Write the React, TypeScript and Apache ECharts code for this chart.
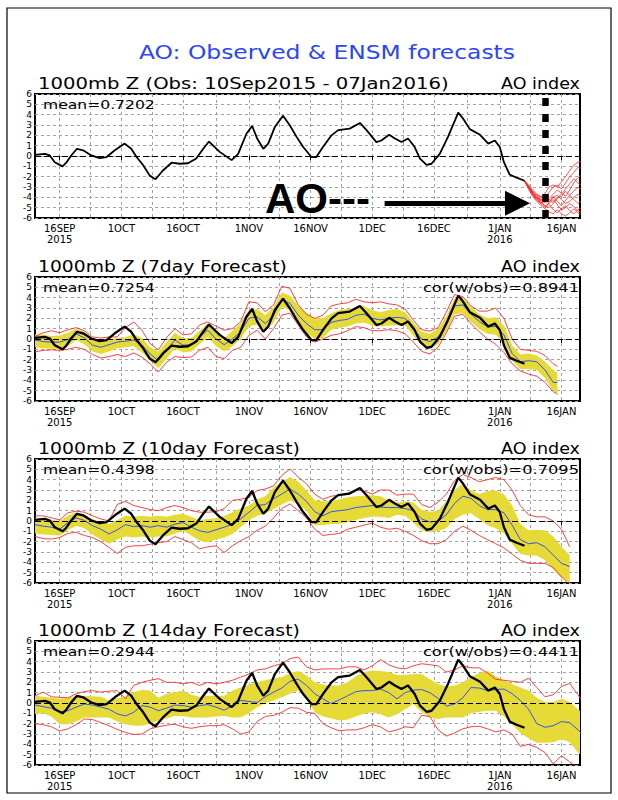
import React, { useEffect, useRef } from "react";
import * as echarts from "echarts";

// ---------- axis definition (x = days since 10 Sep 2015) ----------
const X_MIN = 0;
const X_MAX = 132.5;
const MAJOR_DAYS = [6, 21, 36, 52, 67, 82, 97, 113, 128];
const MAJOR_LABELS = ["16SEP\n2015", "1OCT", "16OCT", "1NOV", "16NOV", "1DEC", "16DEC", "1JAN\n2016", "16JAN"];
const MINOR_DAYS = [13.5, 28.5, 44, 59.5, 74.5, 89.5, 105, 120.5];
const Y_MIN = -6;
const Y_MAX = 6;

// ---------- observed AO index ----------
const OBS_DAYS = [0, 2.4, 3.6, 4.8, 6.7, 7.6, 8.8, 10.2, 11.7, 13.7, 15.7, 17.4, 19.4, 21.8, 23.4, 24.7, 26.3, 27.9, 29.3, 31.1,
  33.2, 35.2, 37.2, 39.2, 40.9, 42.3, 44.9, 47.8, 49.4, 51.4, 52.8, 54, 55.5, 56.7, 58.3, 60.3, 61.9, 63.6, 65.2, 67.2,
  68.4, 70, 72.1, 73.7, 76.5, 79, 80.6, 83, 84.2, 86.1, 87.5, 89.1, 90.7, 92.3, 93.6, 95.2, 96.4, 98.4, 100.4, 102.9,
  104.1, 105.7, 108.2, 110.2, 111.8, 113, 114, 115.4, 117.1, 118.7, 119];
const OBS_VALS = [0.1, 0.2, 0.05, -0.6, -1.0, -0.65, 0.05, 0.7, 0.55, 0.05, -0.2, -0.1, 0.55, 1.2, 0.7, -0.1, -0.9, -1.9, -2.25, -1.4,
  -0.65, -0.75, -0.7, -0.25, 0.7, 1.4, 0.4, -0.4, 0.2, 2.15, 2.9, 1.7, 0.7, 1.2, 2.8, 3.9, 3.0, 1.85, 0.87, -0.1,
  -0.1, 0.87, 2.0, 2.5, 2.65, 3.2, 2.5, 1.35, 1.5, 2.05, 1.7, 1.35, 1.7, 0.87, -0.25, -0.85, -0.75, 0.2, 1.85, 4.2,
  3.6, 2.6, 2.05, 1.2, 1.5, 0.87, -0.6, -1.8, -2.1, -2.35, -2.4];

// ---------- panel 1: ensemble member forecasts from 7 Jan ----------
const ENS_DAYS = [119, 120, 121, 122, 123, 124, 125, 126, 127, 128, 129, 130, 131, 132, 133];
const ENS_M1 = [-2.4, -2.9, -3.4, -3.8, -4.0, -3.6, -3.0, -2.8, -3.0, -2.5, -2.0, -1.4, -0.9, -0.6, -0.5];
const ENS_M2 = [-2.4, -3.0, -3.5, -3.9, -4.2, -4.0, -3.5, -3.0, -2.8, -3.2, -2.6, -2.0, -1.6, -1.1, -1.2];
const ENS_M3 = [-2.4, -3.0, -3.6, -4.1, -4.3, -4.5, -4.1, -3.7, -3.3, -3.6, -3.9, -3.3, -2.6, -2.1, -1.8];
const ENS_M4 = [-2.4, -2.8, -3.3, -3.7, -3.9, -4.2, -4.4, -4.0, -3.8, -4.2, -4.6, -4.4, -4.0, -3.7, -3.9];
const ENS_M5 = [-2.4, -3.1, -3.7, -4.2, -4.5, -4.8, -5.0, -4.6, -4.1, -3.9, -3.4, -3.8, -4.2, -4.6, -4.3];
const ENS_M6 = [-2.4, -3.1, -3.8, -4.3, -4.6, -4.3, -4.7, -5.2, -5.5, -5.1, -4.8, -5.3, -5.6, -5.2, -5.0];
const ENS_M7 = [-2.4, -3.2, -3.9, -4.4, -4.8, -5.1, -5.4, -5.6, -5.2, -5.6, -5.8, -5.5, -5.1, -5.5, -5.7];
const ENS_M8 = [-2.4, -3.0, -3.7, -4.0, -4.4, -4.9, -4.6, -4.2, -4.7, -5.2, -5.0, -4.6, -4.9, -5.3, -5.5];
const ENS_M9 = [-2.4, -2.9, -3.5, -4.0, -4.3, -3.9, -4.2, -4.5, -4.0, -3.7, -3.2, -2.7, -2.2, -2.6, -2.9];
const ENS_M10 = [-2.4, -3.1, -3.6, -4.1, -4.6, -5.0, -4.5, -3.9, -4.4, -4.8, -4.3, -3.8, -3.4, -3.0, -3.3];
const ENSEMBLE = [ENS_M1, ENS_M2, ENS_M3, ENS_M4, ENS_M5, ENS_M6, ENS_M7, ENS_M8, ENS_M9, ENS_M10];

// annotation positions (data space)
const MARK_DAY = 124;
const ARROW_FROM = 85;
const ARROW_TO = 117.3;
const ARROW_LEVEL = -4.58;

// ---------- sampling days for the forecast panels ----------
const evens = (last: number) => Array.from({ length: last / 2 + 1 }, (_, i) => i * 2);
const DAYS_P2 = [...evens(126), 127];
const DAYS_P3 = evens(130);
const DAYS_P4 = [...evens(132), 133];

// ---------- panel 2: 7-day forecast ----------
const P2_MEAN = [-0.1, -0.25, -0.3, -0.3, -0.05, 0.5, 0.1, -0.6, -0.8, -0.55,
  -0.3, -0.2, -0.1, -0.6, -1.45, -2.1, -1.1, -0.1, -0.6, -0.55,
  0.2, 0.85, 0, -0.55, 0, 0.7, 2.0, 2.15, 1.5, 2.3,
  3.8, 3.45, 2.3, 1.5, 0.9, 0.9, 1.6, 1.8, 1.9, 2.3,
  2.4, 2.0, 1.85, 2.0, 2.1, 2.0, 1.0, 0.0, -0.25, 0.2,
  1.4, 3.2, 3.3, 2.4, 1.7, 1.2, 1.2, 0.4, -1.4, -2.2,
  -2.1, -2.2, -3.0, -4.2, -4.2];
const P2_BAND_HI = [0.45, 0.4, 0.3, 0.35, 0.6, 1.0, 0.7, 0.0, -0.2, 0.0,
  0.1, 0.2, 0.45, 0.1, -0.8, -1.2, -0.3, 0.6, 0.1, 0.1,
  0.8, 1.5, 0.8, 0.1, 0.8, 1.5, 2.8, 2.9, 2.3, 3.1,
  4.5, 4.2, 3.2, 2.5, 2.0, 2.0, 2.5, 2.8, 2.9, 3.0,
  3.2, 2.8, 2.6, 2.8, 2.9, 2.6, 1.6, 0.7, 0.5, 1.0,
  2.2, 3.9, 4.0, 3.1, 2.4, 2.0, 2.1, 1.3, -0.6, -1.5,
  -1.4, -1.6, -2.2, -3.0, -3.3];
const P2_BAND_LO = [-0.8, -0.9, -0.95, -1.0, -0.7, -0.1, -0.5, -1.2, -1.45, -1.2,
  -0.9, -0.8, -0.7, -1.3, -2.1, -2.8, -1.9, -0.9, -1.3, -1.2,
  -0.5, 0.2, -0.7, -1.2, -0.7, 0.0, 1.2, 1.4, 0.8, 1.6,
  3.1, 2.8, 1.6, 0.6, 0.0, 0.1, 0.9, 1.1, 1.2, 1.5,
  1.6, 1.3, 1.2, 1.3, 1.3, 1.3, 0.3, -0.6, -0.9, -0.5,
  0.7, 2.4, 2.5, 1.7, 1.0, 0.5, 0.4, -0.4, -2.1, -2.9,
  -2.9, -3.0, -3.8, -5.0, -5.3];
const P2_RED_HI = [0.25, 0.6, 0.8, 0.6, 0.9, 1.1, 0.8, 0.2, 0.1, 0.2,
  0.2, 1.1, 1.65, 0.85, -0.45, -1.05, 0.15, 1.0, 0.4, 0.5,
  1.35, 1.65, 1.25, 0.85, 1.0, 1.65, 3.6, 3.5, 2.65, 3.3,
  5.1, 4.9, 3.3, 2.4, 2.0, 2.3, 3.2, 3.4, 3.5, 3.85,
  3.6, 3.5, 3.6, 3.4, 3.3, 2.9, 1.8, 0.9, 0.75, 1.1,
  2.6, 4.3, 4.1, 3.2, 2.7, 2.7, 3.0, 2.0, 0.0, -1.0,
  -1.1, -1.2, -1.6, -2.4, -2.65];
const P2_RED_LO = [-1.25, -1.1, -1.05, -1.1, -1.0, -0.8, -1.0, -1.5, -1.85, -1.7,
  -1.5, -1.7, -1.35, -1.75, -2.4, -3.2, -2.25, -1.7, -1.8, -1.75,
  -1.1, -0.8, -1.7, -1.9, -1.1, -0.8, 0.35, 0.85, 0.0, 1.0,
  2.3, 2.5, 1.35, 0.2, -0.3, 0.0, 0.35, 0.5, 0.8, 1.2,
  1.1, 0.8, 0.8, 0.9, 0.8, 0.5, -0.3, -1.2, -1.45, -0.8,
  0.6, 2.2, 2.4, 1.5, 0.7, 0.0, -0.5, -1.3, -2.4, -3.1,
  -3.4, -3.6, -4.2, -5.1, -5.35];

// ---------- panel 3: 10-day forecast ----------
const P3_MEAN = [-0.35, -0.5, -0.6, -0.8, -0.15, 0.3, 0.05, -0.45, -0.8, -1.25,
  -0.85, -0.35, -0.55, -0.45, -0.6, -0.45, -0.6, -0.3, -0.15, -0.6,
  -0.95, -1.1, -0.85, -0.6, -0.3, 0.2, 0.85, 1.5, 1.6, 2.15,
  2.6, 3.1, 2.6, 1.9, 0.9, 0.5, 0.9, 1.0, 1.1, 1.3,
  1.4, 1.5, 1.35, 1.3, 1.3, 1.2, 1.0, 0.2, -0.1, 0.0,
  0.6, 1.7, 2.4, 2.2, 1.5, 1.1, 1.1, 0.8, -0.4, -1.8,
  -2.2, -2.1, -2.5, -3.3, -4.1, -4.4];
const P3_BAND_HI = [0.3, 0.2, 0.1, 0.0, 0.5, 0.85, 0.6, 0.2, -0.1, -0.3,
  0.1, 0.5, 0.4, 0.5, 0.4, 0.5, 0.4, 0.6, 0.7, 0.4,
  0.1, 0.2, 0.3, 0.5, 0.85, 1.2, 1.5, 2.1, 2.4, 3.25,
  3.8, 4.25, 3.8, 2.95, 2.0, 1.9, 1.9, 2.1, 2.3, 2.4,
  2.45, 2.5, 2.4, 2.0, 1.8, 1.9, 1.8, 1.1, 0.9, 1.0,
  1.9, 3.0, 3.6, 3.0, 2.6, 2.9, 2.95, 2.6, 1.5, -0.3,
  -0.9, -0.85, -0.9, -1.5, -2.5, -3.3];
const P3_BAND_LO = [-1.2, -1.3, -1.35, -1.4, -0.9, -0.45, -0.7, -1.3, -1.8, -2.2,
  -1.8, -1.5, -1.6, -1.5, -1.6, -1.5, -1.5, -1.2, -0.95, -1.4,
  -1.9, -2.05, -1.8, -1.6, -1.25, -0.6, 0.1, 0.5, 0.7, 1.15,
  1.6, 2.0, 1.6, 1.0, -0.4, -0.4, -0.3, -0.3, -0.1, 0.1,
  0.3, 0.4, 0.4, 0.3, 0.6, 0.5, -0.2, -0.9, -1.1, -0.95,
  -0.7, 0.2, 0.6, 0.75, 0.2, -0.4, -0.7, -1.2, -2.2, -3.2,
  -3.35, -3.35, -3.8, -4.7, -5.5, -6.0];
const P3_RED_HI = [0.5, 0.5, 0.3, 0.1, 0.8, 0.95, 0.85, 0.5, 0.2, 0.0,
  1.6, 1.9, 1.5, 1.3, 1.1, 1.0, 1.3, 1.5, 1.3, 1.0,
  0.85, 0.85, 0.9, 1.2, 2.0, 2.1, 2.3, 2.95, 3.1, 3.4,
  4.4, 5.05, 4.25, 3.6, 2.6, 2.1, 2.4, 2.5, 2.7, 3.0,
  2.9, 2.6, 3.0, 3.0, 2.5, 2.6, 2.6, 1.6, 1.3, 1.8,
  2.6, 3.9, 4.5, 4.2, 3.8, 4.0, 4.2, 4.0, 3.0, 1.5,
  0.6, 0.4, 0.4, 0.0, -0.8, -2.5];
const P3_RED_LO = [-1.5, -1.7, -1.75, -1.6, -1.2, -1.1, -1.4, -1.6, -2.0, -2.55,
  -3.15, -2.55, -2.4, -2.4, -2.25, -2.1, -2.0, -1.5, -1.8, -2.1,
  -2.7, -2.5, -2.4, -3.05, -2.4, -1.9, -1.5, -0.9, -0.5, 0.3,
  1.2, 1.65, 1.0, 0.3, -0.8, -1.4, -1.3, -1.2, -0.8, -0.6,
  -0.4, -0.2, -0.6, -0.8, -0.7, -1.0, -1.4, -1.9, -2.2, -2.2,
  -1.8, -1.0, -0.5, -0.9, -1.4, -1.8, -2.2, -2.6, -3.2, -3.8,
  -4.1, -4.1, -4.1, -4.5, -5.4, -6.2];

// ---------- panel 4: 14-day forecast ----------
const P4_MEAN = [-0.2, -0.35, -0.5, -0.85, -0.75, -0.4, -0.1, -0.2, -0.4, -0.6,
  -1.05, -1.25, -0.9, -0.25, -0.4, -0.75, -0.5, -0.2, -0.25, -0.4,
  -0.25, -0.15, -0.4, -0.7, -0.25, 0.25, 0.15, 0.05, 0.6, 1.05,
  1.45, 2.1, 2.3, 1.7, 0.9, 0.4, -0.05, 0.3, 0.7, 1.1,
  1.2, 1.2, 1.35, 1.0, 0.4, 1.0, 1.25, 1.3, 1.0, 0.45,
  -0.3, -0.1, 0.5, 1.5, 1.45, 1.2, 1.3, 1.35, 0.9, 0.25,
  -0.6, -2.0, -2.35, -2.2, -1.8, -1.9, -2.6, -3.0];
const P4_BAND_HI = [0.7, 0.6, 0.5, 0.4, 0.5, 0.65, 0.7, 0.65, 0.6, 0.25,
  0.45, 0.65, 1.05, 1.25, 1.2, 0.5, 0.9, 1.05, 1.2, 0.8,
  0.6, 0.7, 0.7, 0.7, 1.2, 1.5, 1.8, 2.0, 2.2, 2.4,
  2.5, 2.9, 3.1, 2.65, 2.0, 1.8, 1.7, 1.7, 2.0, 2.6,
  3.0, 3.15, 3.1, 3.0, 2.7, 2.7, 2.8, 2.8, 2.3, 1.85,
  1.6, 1.7, 2.0, 2.5, 2.9, 3.15, 2.6, 2.2, 1.85, 1.5,
  1.2, 0.5, 0.1, 0.1, 0.4, 0.1, -0.6, -0.9];
const P4_BAND_LO = [-1.05, -1.0, -1.3, -2.05, -2.05, -1.8, -1.4, -1.4, -1.4, -1.4,
  -1.8, -2.05, -2.2, -2.2, -2.0, -1.7, -1.5, -1.25, -1.25, -1.4,
  -1.4, -1.4, -1.3, -1.25, -1.4, -1.4, -1.0, -0.4, 0.0, 0.25,
  0.55, 0.9, 1.2, 0.4, -0.9, -1.3, -1.5, -1.7, -1.6, -1.3,
  -1.05, -0.9, -1.1, -1.4, -1.1, -0.6, -0.1, -0.9, -1.4, -1.55,
  -1.4, -1.4, -1.4, -1.0, -0.85, -0.75, -0.75, -1.3, -2.05, -2.9,
  -3.4, -3.85, -3.85, -3.8, -3.5, -3.8, -4.8, -5.1];
const P4_RED_HI = [0.7, 1.05, 0.6, 0.55, 0.5, 0.9, 1.1, 1.2, 1.05, 1.15,
  1.2, 0.4, 1.7, 2.0, 2.2, 2.35, 2.0, 2.0, 1.85, 2.0,
  1.7, 2.0, 1.85, 2.0, 2.2, 2.5, 2.8, 3.2, 3.3, 3.6,
  3.8, 4.3, 4.45, 3.5, 3.2, 3.3, 3.3, 3.3, 3.5, 3.5,
  3.2, 3.6, 4.2, 3.7, 3.4, 3.3, 3.6, 3.8, 3.7, 3.6,
  3.0, 3.2, 3.6, 3.4, 3.4, 2.9, 2.3, 2.2, 2.1, 2.0,
  2.4, 1.5, 0.6, 0.8, 1.6, 1.9, 0.8, 0.2];
const P4_RED_LO = [-2.0, -2.1, -2.3, -2.7, -2.5, -2.1, -1.55, -1.6, -1.9, -2.2,
  -2.55, -2.85, -3.05, -3.0, -2.5, -2.3, -2.15, -2.05, -2.3, -2.45,
  -2.3, -2.2, -2.2, -2.1, -2.5, -3.0, -2.8, -1.8, -1.3, -1.2,
  -0.9, -0.45, -0.5, -0.9, -1.0, -2.0, -2.4, -2.7, -2.6, -2.6,
  -2.4, -2.1, -2.3, -2.8, -2.6, -2.3, -2.4, -1.2, -1.3, -2.6,
  -3.2, -2.9, -2.5, -2.3, -2.25, -2.5, -2.8, -2.6, -3.0, -4.2,
  -4.0, -4.3, -4.8, -5.9, -5.1, -5.7, -6.3, -6.5];

// ---------- texts ----------
const MAIN_TITLE = "AO: Observed & ENSM forecasts";
const PANEL_TITLES = ["1000mb Z (Obs: 10Sep2015 - 07Jan2016)", "1000mb Z (7day Forecast)", "1000mb Z (10day Forecast)", "1000mb Z (14day Forecast)"];
const MEAN_TEXTS = ["mean=0.7202", "mean=0.7254", "mean=0.4398", "mean=0.2944"];
const COR_TEXTS = ["", "cor(w/obs)=0.8941", "cor(w/obs)=0.7095", "cor(w/obs)=0.4411"];

// ---------- style / layout ----------
const FONT = "DejaVu Sans";
const THIN_FONT = "'DejaVu Sans ExtraLight', 'DejaVu Sans'";
const C_BLUE = "#2246ff";
const C_RED = "#ff2a2a";
const C_BAND = "#e6da36";
const C_GRID = "#a2a2a2";
const C_TITLE = "#2a44ff";
const TOPS = [94, 277, 459, 641];
const PLOT_LEFT = 35;
const PLOT_W = 545;
const PLOT_H = 124;
const TITLE_SCALES = [1.31, 1.25, 1.255, 1.255];

const zip = (days: number[], vals: number[]) => vals.map((v, i) => [days[i], v]);

function buildOption() {
  const grids: any[] = [];
  const xAxes: any[] = [];
  const yAxes: any[] = [];
  const series: any[] = [];
  const graphics: any[] = [];
  const gridDays = [...MAJOR_DAYS, ...MINOR_DAYS].sort((a, b) => a - b);

  TOPS.forEach((top, i) => {
    grids.push({ left: PLOT_LEFT, top, width: PLOT_W, height: PLOT_H, show: true, borderColor: "#000", borderWidth: 2, backgroundColor: "transparent", containLabel: false });
    xAxes.push({
      type: "value", gridIndex: i, min: X_MIN, max: X_MAX, position: "bottom",
      axisLine: { show: false },
      axisTick: { show: true, length: 4, customValues: MAJOR_DAYS, lineStyle: { color: "#000", width: 1 } },
      axisLabel: {
        customValues: MAJOR_DAYS,
        formatter: (v: number) => { const k = MAJOR_DAYS.indexOf(v); return k >= 0 ? MAJOR_LABELS[k] : ""; },
        fontSize: 10, fontFamily: FONT, color: "#000", margin: 5, lineHeight: 11,
      },
      splitLine: { show: false },
    });
    xAxes.push({
      type: "value", gridIndex: i, min: X_MIN, max: X_MAX, position: "top",
      axisLine: { show: false },
      axisTick: { show: false, customValues: gridDays },
      axisLabel: { show: false },
      splitLine: { show: true, lineStyle: { color: C_GRID, type: [3, 3], width: 1 } },
    });
    yAxes.push({
      type: "value", gridIndex: i, min: Y_MIN, max: Y_MAX, interval: 1,
      axisLine: { show: false }, axisTick: { show: false },
      axisLabel: { fontSize: 9, fontFamily: FONT, color: "#000", margin: 3 },
      splitLine: { show: true, lineStyle: { color: C_GRID, type: [3, 3], width: 1 } },
    });

    // texts
    graphics.push({ type: "text", x: 38, y: top - 10.5, scaleX: TITLE_SCALES[i], style: { text: PANEL_TITLES[i], fontSize: 15, fontFamily: THIN_FONT, fill: "#000", align: "left", verticalAlign: "middle" } });
    graphics.push({ type: "text", x: 580, y: top - 10.5, scaleX: 1.17, style: { text: "AO index", fontSize: 15, fontFamily: THIN_FONT, fill: "#000", align: "right", verticalAlign: "middle" } });
    graphics.push({ type: "text", x: 43, y: top + 10.5, scaleX: 1.2, z: 50, style: { text: MEAN_TEXTS[i], fontSize: 13, fontFamily: THIN_FONT, fill: "#000", align: "left", verticalAlign: "middle" } });
    if (COR_TEXTS[i]) {
      graphics.push({ type: "text", x: 579, y: top + 10.5, scaleX: 1.25, z: 50, style: { text: COR_TEXTS[i], fontSize: 13, fontFamily: THIN_FONT, fill: "#000", align: "right", verticalAlign: "middle" } });
    }
  });

  const line = (i: number, data: number[][], color: string, width: number, z: number, extra: any = {}) => ({
    type: "line", xAxisIndex: 2 * i, yAxisIndex: i, data, showSymbol: false, symbol: "none",
    lineStyle: { color, width }, z, silent: true, animation: false, ...extra,
  });

  const zeroLine = { yAxis: 0, lineStyle: { color: "#000", type: [6, 3], width: 1 } };
  const obsData = zip(OBS_DAYS, OBS_VALS);

  // Panel 1
  ENSEMBLE.forEach((m) => series.push(line(0, zip(ENS_DAYS, m), C_RED, 0.8, 3)));
  series.push(line(0, obsData, "#000", 1.8, 5, {
    markLine: {
      silent: true, symbol: "none", label: { show: false }, animation: false,
      data: [
        zeroLine,
        { xAxis: MARK_DAY, lineStyle: { color: "#000", width: 6.5, type: [8, 8], dashOffset: 0 } },
        [
          { coord: [ARROW_FROM, ARROW_LEVEL], symbol: "none" },
          { coord: [ARROW_TO, ARROW_LEVEL], symbol: "triangle", symbolSize: 25, lineStyle: { color: "#000", width: 5, type: "solid" } },
        ],
      ],
    },
  }));

  // Forecast panels
  const bandPanels = [
    { days: DAYS_P2, hi: P2_BAND_HI, lo: P2_BAND_LO, mean: P2_MEAN, redHi: P2_RED_HI, redLo: P2_RED_LO },
    { days: DAYS_P3, hi: P3_BAND_HI, lo: P3_BAND_LO, mean: P3_MEAN, redHi: P3_RED_HI, redLo: P3_RED_LO },
    { days: DAYS_P4, hi: P4_BAND_HI, lo: P4_BAND_LO, mean: P4_MEAN, redHi: P4_RED_HI, redLo: P4_RED_LO },
  ];
  bandPanels.forEach((p, k) => {
    const i = k + 1;
    const up = zip(p.days, p.hi);
    const lo = zip(p.days, p.lo);
    series.push({
      type: "custom", xAxisIndex: 2 * i, yAxisIndex: i, data: [[0, 0]], encode: { x: 0, y: 1 },
      clip: true, silent: true, z: 1, animation: false,
      renderItem: (params: any, api: any) => {
        if (params.dataIndex !== 0) return null;
        const pts: number[][] = [];
        up.forEach((pt) => pts.push(api.coord(pt)));
        for (let j = lo.length - 1; j >= 0; j--) pts.push(api.coord(lo[j]));
        return { type: "polygon", shape: { points: pts }, style: { fill: C_BAND, stroke: null } };
      },
    });
    series.push(line(i, zip(p.days, p.redHi), C_RED, 0.9, 2));
    series.push(line(i, zip(p.days, p.redLo), C_RED, 0.9, 2));
    series.push(line(i, zip(p.days, p.mean), C_BLUE, 0.9, 3));
    series.push(line(i, obsData, "#000", 2.3, 5, {
      markLine: { silent: true, symbol: "none", label: { show: false }, animation: false, data: [zeroLine] },
    }));
  });

  // outer frame, main title, big annotation
  graphics.push({ type: "rect", shape: { x: 7, y: 8, width: 604, height: 785 }, style: { fill: null, stroke: "#000", lineWidth: 1.2 } });
  graphics.push({ type: "text", x: 327, y: 52, scaleX: 1.17, style: { text: MAIN_TITLE, fontSize: 20, fontFamily: THIN_FONT, fill: C_TITLE, align: "center", verticalAlign: "middle" } });
  graphics.push({ type: "text", x: 265, y: 198.7, z: 60, style: { text: "AO---", fontSize: 42, fontWeight: "bold", fontFamily: "Liberation Sans", fill: "#000", align: "left", verticalAlign: "middle" } });

  return {
    animation: false,
    backgroundColor: "#fff",
    grid: grids,
    xAxis: xAxes,
    yAxis: yAxes,
    series,
    graphic: { elements: graphics },
  };
}

export default function App() {
  const ref = useRef<HTMLDivElement>(null);
  useEffect(() => {
    const chart = echarts.init(ref.current!, null, { renderer: "svg" });
    chart.setOption(buildOption());
    return () => chart.dispose();
  }, []);
  return <div ref={ref} style={{ position: "fixed", left: 0, top: 0, width: 618, height: 800, background: "#fff" }} />;
}
